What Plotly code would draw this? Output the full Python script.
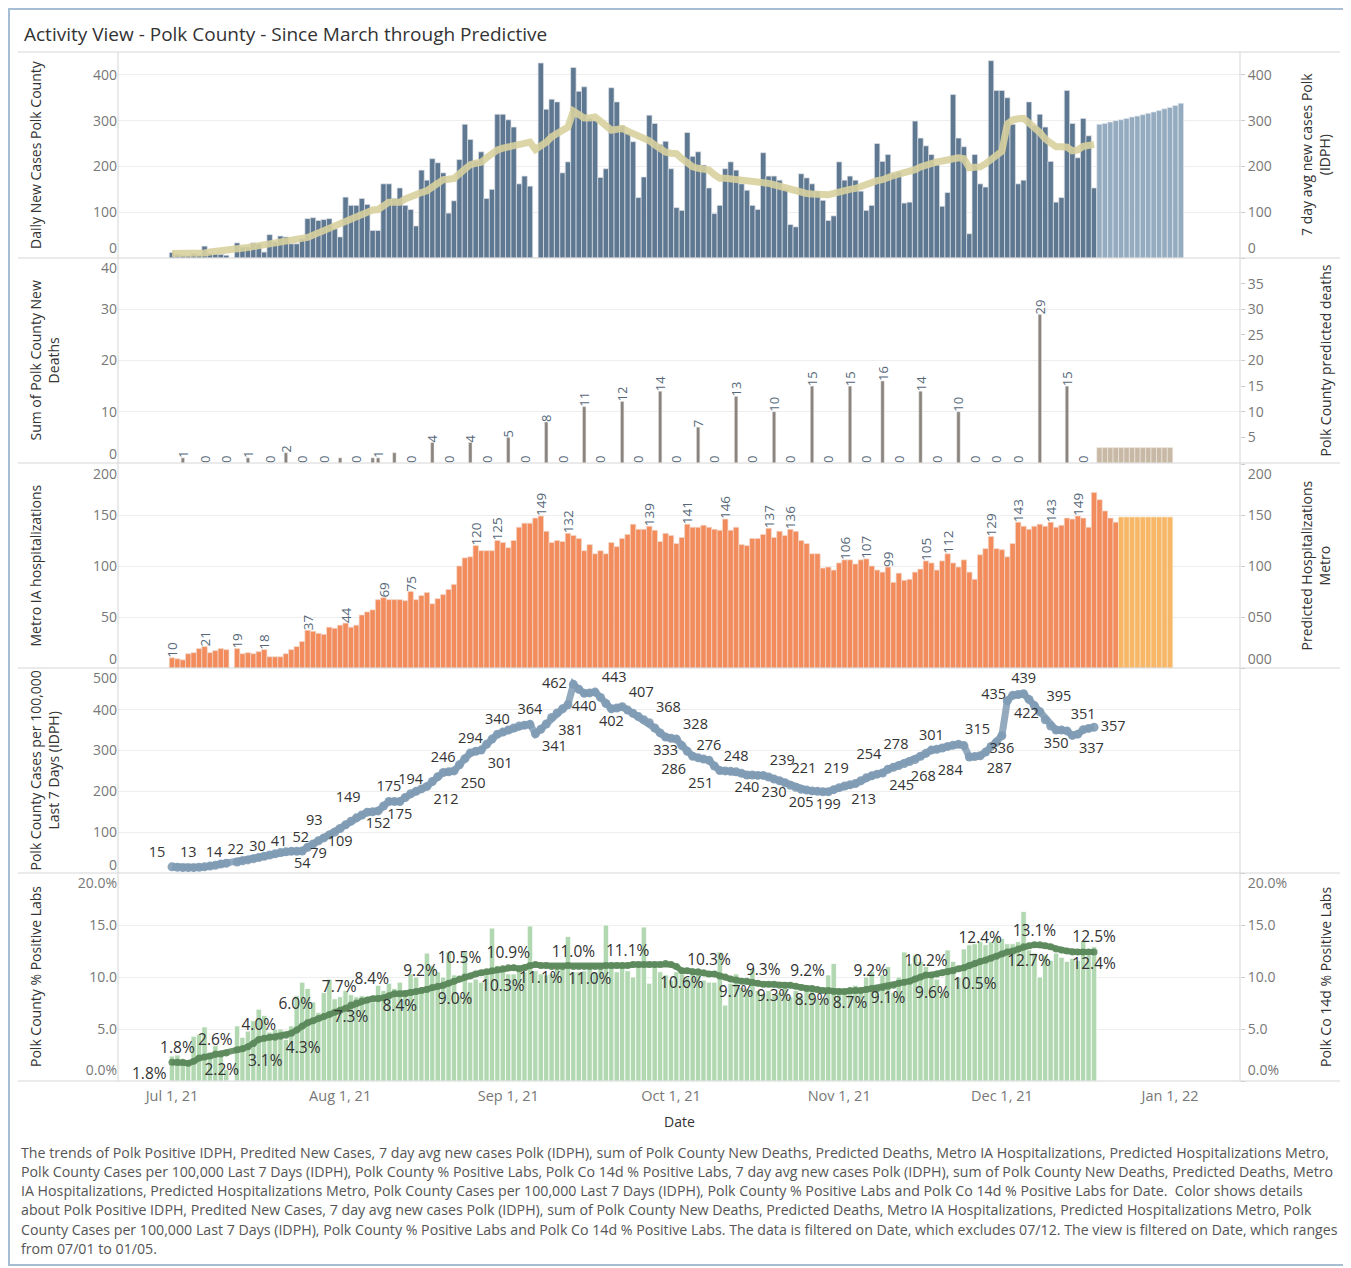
import pandas as pd
import plotly.graph_objects as go

# ---------------- DATA ----------------
START_DATE = "2021-07-01"

X_TICKS = ["2021-07-01", "2021-08-01", "2021-09-01", "2021-10-01",
           "2021-11-01", "2021-12-01", "2022-01-01"]

# Daily new cases Polk County (07/12 excluded -> None)
DAILY_NEW_CASES = [
    12, 8, 6, 5, 10, 7, 26, 10, 9, 8, 6,
    None,
    33, 24, 24, 33, 31, 13, 51, 35, 48,
    46, 31, 31, 42, 86, 88, 82, 84, 86, 64,
    46, 133, 115, 115, 130, 117, 60, 60, 162, 162,
    130, 153, 115, 106, 70, 192, 170, 217, 208, 186,
    98, 125, 215, 292, 259, 212, 232, 130, 150, 314,
    314, 302, 286, 162, 179, 157, 0, 426, 325, 347,
    341, 186, 210, 416, 364, 374, 305, 300, 176, 195,
    372, 341, 289, 272, 254, 132, 177, 312, 294, 248,
    255, 195, 110, 104, 274, 222, 232, 203, 153, 97,
    115, 195, 210, 192, 162, 148, 115, 106, 230, 179,
    179, 170, 150, 73, 68, 184, 175, 162, 146, 126,
    82, 92, 210, 170, 179, 170, 146, 104, 115, 250,
    211, 226, 184, 188, 120, 122, 299, 262, 245, 226,
    203, 113, 143, 357, 262, 243, 53, 226, 162, 155,
    431, 366, 366, 350, 292, 162, 170, 341, 289, 314,
    286, 211, 122, 132, 366, 294, 219, 305, 267, 153,
]

PREDICTED_CASES_START = "2021-12-19"
PREDICTED_NEW_CASES = [292, 294, 297, 300, 302, 305, 308, 310,
                       313, 316, 319, 322, 326, 329, 333, 338]

AVG7_NEW_CASES = [
    10, 10, 10, 9, 9, 10, 11, 13, 14, 15, 17,
    None,
    20, 21, 23, 25, 27, 29, 30, 32, 34,
    36, 37, 38, 40, 45, 50, 55, 60, 65, 70,
    76, 82, 88, 94, 99, 104, 105, 106, 114, 122,
    122, 122, 129, 135, 139, 143, 147, 156, 164, 171,
    172, 174, 184, 194, 204, 207, 209, 219, 228, 236,
    240, 243, 247, 250, 250, 253, 237, 244, 253, 265,
    272, 279, 286, 321, 313, 306, 306, 308, 299, 288,
    279, 281, 283, 277, 272, 266, 261, 256, 247, 238,
    231, 229, 228, 217, 207, 199, 196, 194, 192, 182,
    174, 174, 173, 172, 169, 167, 167, 166, 166, 163,
    160, 157, 153, 149, 146, 142, 141, 140, 139, 138,
    138, 141, 145, 148, 150, 152, 157, 162, 166, 169,
    171, 177, 180, 183, 186, 190, 193, 199, 204, 209,
    210, 212, 215, 217, 219, 217, 197, 198, 199, 206,
    215, 222, 233, 293, 302, 304, 305, 295, 285, 274,
    260, 250, 243, 243, 242, 234, 236, 244, 246, 248,
]

DEATH_DATES = [
    "2021-07-03", "2021-07-07", "2021-07-11", "2021-07-15", "2021-07-19",
    "2021-07-22", "2021-07-25", "2021-07-29", "2021-08-01", "2021-08-04",
    "2021-08-07", "2021-08-08", "2021-08-11", "2021-08-14", "2021-08-18",
    "2021-08-21", "2021-08-25", "2021-08-28", "2021-09-01", "2021-09-04",
    "2021-09-08", "2021-09-11", "2021-09-15", "2021-09-18", "2021-09-22",
    "2021-09-25", "2021-09-29", "2021-10-02", "2021-10-06", "2021-10-09",
    "2021-10-13", "2021-10-16", "2021-10-20", "2021-10-23", "2021-10-27",
    "2021-10-30", "2021-11-03", "2021-11-06", "2021-11-09", "2021-11-12",
    "2021-11-16", "2021-11-19", "2021-11-23", "2021-11-26", "2021-11-30",
    "2021-12-04", "2021-12-08", "2021-12-13", "2021-12-16",
]
NEW_DEATHS = [
    1, 0, 0, 1, 0,
    2, 0, 0, 1, 0,
    1, 1, 2, 0, 4,
    0, 4, 0, 5, 0,
    8, 0, 11, 0, 12,
    0, 14, 0, 7, 0,
    13, 0, 10, 0, 15,
    0, 15, 0, 16, 0,
    14, 0, 10, 0, 0,
    0, 29, 15, 0,
]
UNLABELED_DEATH_DATES = ["2021-08-01", "2021-08-07", "2021-08-11"]

PREDICTED_DEATHS_START = "2021-12-19"
PREDICTED_DEATHS = [3, 3, 3, 3, 3, 3, 3, 3, 3, 3, 3, 3, 3, 3]

METRO_HOSP = [
    10, 9, 8, 14, 15, 19, 21, 15, 17, 19, 18,
    None,
    19, 14, 15, 14, 16, 18, 11, 11, 11,
    14, 18, 21, 26, 37, 36, 34, 33, 40, 39,
    42, 44, 40, 42, 52, 55, 57, 67, 69, 67,
    67, 67, 66, 75, 67, 71, 74, 63, 68, 72,
    77, 82, 100, 108, 109, 120, 115, 115, 115, 125,
    123, 118, 125, 138, 142, 142, 147, 149, 134, 123,
    125, 124, 132, 130, 127, 115, 121, 112, 115, 112,
    123, 119, 127, 131, 141, 136, 136, 139, 135, 124,
    132, 130, 122, 128, 141, 138, 138, 140, 138, 136,
    135, 146, 135, 138, 121, 120, 127, 127, 131, 137,
    128, 134, 130, 136, 134, 125, 122, 112, 112, 98,
    99, 96, 103, 106, 106, 102, 106, 107, 100, 96,
    94, 99, 84, 93, 86, 87, 94, 97, 105, 103,
    96, 105, 112, 103, 99, 106, 94, 87, 111, 117,
    129, 117, 116, 109, 122, 143, 139, 136, 139, 141,
    139, 143, 138, 140, 147, 146, 149, 147, 138, 172,
    165, 154, 147, 143,
]
HOSP_LABEL_DATES = [
    "2021-07-01", "2021-07-07", "2021-07-13", "2021-07-18", "2021-07-26",
    "2021-08-02", "2021-08-09", "2021-08-14", "2021-08-26", "2021-08-30",
    "2021-09-07", "2021-09-12", "2021-09-27", "2021-10-04", "2021-10-11",
    "2021-10-19", "2021-10-23", "2021-11-02", "2021-11-06", "2021-11-10",
    "2021-11-17", "2021-11-21", "2021-11-29", "2021-12-04", "2021-12-10",
    "2021-12-15",
]
PREDICTED_HOSP_START = "2021-12-23"
PREDICTED_HOSP = [148, 148, 148, 148, 148, 148, 148, 148, 148, 148]

CASES_PER_100K = [
    15, 14, 13, 13, 13, 14, 15, 17, 19, 22, 24,
    None,
    27, 30, 32, 35, 38, 41, 44, 47, 50,
    52, 53, 53, 54, 63, 71, 79, 86, 93, 100,
    109, 118, 127, 135, 142, 149, 150, 152, 164, 175,
    175, 175, 185, 194, 200, 206, 212, 224, 236, 246,
    248, 250, 265, 280, 294, 298, 301, 315, 328, 340,
    345, 350, 355, 360, 362, 364, 341, 352, 365, 381,
    392, 402, 412, 462, 450, 440, 441, 443, 430, 415,
    402, 404, 407, 399, 391, 383, 375, 368, 355, 343,
    333, 330, 328, 312, 298, 286, 282, 279, 276, 262,
    251, 250, 249, 248, 244, 240, 240, 239, 239, 235,
    230, 226, 221, 215, 210, 205, 203, 201, 200, 199,
    199, 204, 209, 213, 216, 219, 226, 233, 238, 242,
    245, 254, 259, 263, 268, 273, 278, 286, 293, 301,
    303, 306, 310, 313, 315, 312, 284, 285, 287, 296,
    310, 320, 336, 422, 435, 437, 439, 425, 410, 395,
    375, 360, 350, 350, 348, 337, 340, 351, 354, 357,
]
CASES_100K_LABEL_DATES = [
    "2021-07-01", "2021-07-04", "2021-07-06", "2021-07-10", "2021-07-14",
    "2021-07-18", "2021-07-22", "2021-07-25", "2021-07-28", "2021-07-30",
    "2021-08-01", "2021-08-06", "2021-08-08", "2021-08-10", "2021-08-12",
    "2021-08-14", "2021-08-17", "2021-08-20", "2021-08-22", "2021-08-25",
    "2021-08-27", "2021-08-30", "2021-09-05", "2021-09-06", "2021-09-09",
    "2021-09-13", "2021-09-15", "2021-09-17", "2021-09-20", "2021-09-22",
    "2021-09-27", "2021-09-30", "2021-10-02", "2021-10-05", "2021-10-08",
    "2021-10-10", "2021-10-13", "2021-10-15", "2021-10-18", "2021-10-20",
    "2021-10-22", "2021-10-25", "2021-10-30", "2021-11-02", "2021-11-04",
    "2021-11-09", "2021-11-10", "2021-11-13", "2021-11-15", "2021-11-18",
    "2021-11-23", "2021-11-25", "2021-11-27", "2021-12-01", "2021-12-02",
    "2021-12-03", "2021-12-05", "2021-12-08", "2021-12-11", "2021-12-14",
    "2021-12-16", "2021-12-18",
]

PCT_POSITIVE = [
    2.4, 2.5, 1.5, 1.8, 4.3, 4.5, 5.2, 2.4, 3.4, 2.6, 1.1,
    None,
    5.3, 4.2, 4.8, 5.8, 6.9, 6.3, 4.7, 5.0, 5.0,
    4.0, 5.3, 8.2, 9.5, 8.9, 7.6, 6.6, 8.5, 9.8, 7.9,
    8.1, 8.7, 8.3, 8.1, 8.2, 7.9, 7.6, 9.2, 8.7, 9.4,
    8.9, 9.5, 8.7, 10.3, 10.0, 8.9, 12.3, 11.1, 10.5, 10.0,
    12.4, 10.2, 8.2, 12.4, 9.5, 9.8, 9.5, 10.2, 14.7, 11.1,
    10.8, 10.3, 10.3, 10.8, 10.5, 14.9, 10.6, 10.3, 10.2, 10.3,
    10.8, 11.3, 13.9, 10.5, 10.5, 10.6, 11.0, 10.5, 10.8, 15.0,
    11.3, 10.5, 11.0, 10.6, 10.0, 11.3, 14.8, 9.4, 11.3, 10.5,
    10.2, 9.7, 10.5, 10.3, 10.0, 10.3, 10.3, 9.7, 9.5, 9.5,
    12.4, 7.3, 9.4, 10.3, 9.0, 8.9, 10.8, 8.7, 8.4, 8.7,
    8.2, 8.5, 9.0, 8.1, 8.7, 8.2, 9.2, 9.2, 7.9, 8.0,
    10.2, 11.3, 8.9, 8.7, 8.5, 9.2, 8.7, 10.0, 10.5, 8.9,
    10.2, 11.0, 8.5, 10.0, 12.4, 11.3, 12.1, 11.5, 11.0, 10.5,
    9.8, 8.5, 12.6, 11.5, 10.0, 12.7, 13.1, 13.2, 13.4, 13.1,
    13.4, 13.9, 13.7, 13.2, 13.2, 13.4, 16.3, 12.6, 12.3, 10.0,
    12.1, 11.6, 12.3, 11.9, 11.5, 11.8, 11.6, 13.5, 12.1, 12.9,
]

PCT_14D = [
    1.8, 1.8, 1.8, 1.7, 1.9, 2.2, 2.3, 2.4, 2.6, 2.6, 2.7,
    None,
    3.0, 3.1, 3.3, 3.6, 4.0, 4.1, 4.2, 4.2, 4.3,
    4.4, 4.6, 4.9, 5.3, 5.6, 5.8, 6.0, 6.2, 6.4, 6.6,
    6.8, 7.0, 7.3, 7.5, 7.7, 7.8, 7.9, 7.9, 8.0, 8.2,
    8.4, 8.4, 8.4, 8.5, 8.6, 8.7, 8.8, 9.0, 9.1, 9.2,
    9.4, 9.6, 9.8, 10.0, 10.1, 10.3, 10.4, 10.5, 10.6, 10.7,
    10.8, 10.9, 10.9, 10.8, 10.9, 11.1, 11.2, 11.1, 11.1, 11.0,
    11.0, 11.0, 11.1, 11.0, 11.0, 11.0, 11.0, 11.0, 11.0, 11.1,
    11.1, 11.1, 11.1, 11.1, 11.2, 11.2, 11.2, 11.2, 11.2, 11.2,
    11.3, 11.2, 11.0, 10.6, 10.6, 10.5, 10.5, 10.4, 10.3, 10.3,
    10.1, 10.0, 9.8, 9.7, 9.6, 9.6, 9.5, 9.4, 9.3, 9.3,
    9.3, 9.2, 9.2, 9.2, 9.1, 9.0, 8.9, 8.9, 8.8, 8.7,
    8.7, 8.6, 8.6, 8.6, 8.7, 8.7, 8.7, 8.8, 8.9, 8.9,
    9.0, 9.1, 9.2, 9.4, 9.5, 9.6, 9.8, 10.0, 10.2, 10.2,
    10.3, 10.4, 10.5, 10.6, 10.8, 10.9, 11.1, 11.3, 11.5, 11.6,
    11.8, 12.0, 12.2, 12.4, 12.5, 12.7, 12.9, 13.0, 13.1, 13.1,
    13.0, 12.9, 12.7, 12.6, 12.5, 12.4, 12.4, 12.4, 12.4, 12.4,
]
PCT_14D_LABEL_DATES = [
    "2021-07-01", "2021-07-02", "2021-07-06", "2021-07-09", "2021-07-14",
    "2021-07-17", "2021-07-21", "2021-07-28", "2021-08-03", "2021-08-05",
    "2021-08-11", "2021-08-12", "2021-08-18", "2021-08-20", "2021-08-26",
    "2021-08-28", "2021-09-01", "2021-09-07", "2021-09-13", "2021-09-16",
    "2021-09-23", "2021-10-03", "2021-10-08", "2021-10-13", "2021-10-18",
    "2021-10-20", "2021-10-22", "2021-10-27", "2021-11-03", "2021-11-10",
    "2021-11-11", "2021-11-14", "2021-11-17", "2021-11-21", "2021-12-02",
    "2021-12-07", "2021-12-11", "2021-12-13", "2021-12-18",
]

CAPTION_LINES = [
    "The trends of Polk Positive IDPH, Predited New Cases, 7 day avg new cases Polk (IDPH), sum of Polk County New Deaths, Predicted Deaths, Metro IA Hospitalizations, Predicted Hospitalizations Metro,",
    "Polk County Cases per 100,000 Last 7 Days (IDPH), Polk County % Positive Labs, Polk Co 14d % Positive Labs, 7 day avg new cases Polk (IDPH), sum of Polk County New Deaths, Predicted Deaths, Metro",
    "IA Hospitalizations, Predicted Hospitalizations Metro, Polk County Cases per 100,000 Last 7 Days (IDPH), Polk County % Positive Labs and Polk Co 14d % Positive Labs for Date.  Color shows details",
    "about Polk Positive IDPH, Predited New Cases, 7 day avg new cases Polk (IDPH), sum of Polk County New Deaths, Predicted Deaths, Metro IA Hospitalizations, Predicted Hospitalizations Metro, Polk",
    "County Cases per 100,000 Last 7 Days (IDPH), Polk County % Positive Labs and Polk Co 14d % Positive Labs. The data is filtered on Date, which excludes 07/12. The view is filtered on Date, which ranges",
    "from 07/01 to 01/05.",
]

# ---------------- STYLE / LAYOUT ----------------
CASES_100K_LABEL_POS = [
    "top left", "top center", "top right", "top right", "top right",
    "top right", "top right", "bottom center", "bottom center", "top left",
    "bottom center", "top left", "bottom center", "top center", "bottom center",
    "top center", "bottom right", "top center", "bottom right", "top center",
    "bottom right", "top center", "top center", "bottom right", "bottom right",
    "middle left", "bottom center", "top right", "bottom center", "top right",
    "top right", "bottom center", "top right", "bottom left", "top center",
    "bottom left", "top center", "bottom center", "top right", "bottom center",
    "top right", "bottom center", "bottom center", "bottom right", "top left",
    "bottom right", "top left", "bottom right", "top left", "top center",
    "top right", "bottom left", "bottom right", "bottom center", "bottom right",
    "middle left", "top center", "top right", "bottom center", "bottom right",
    "top center", "middle right",
]
PCT_14D_LABEL_POS = [
    "bottom left", "top center", "bottom right", "top center", "bottom right",
    "top center", "bottom right", "top left", "bottom center", "top left",
    "top left", "bottom center", "bottom right", "top left", "bottom right",
    "top left", "top center", "bottom center", "top center", "bottom center",
    "top center", "bottom center", "top center", "bottom center", "top center",
    "bottom center", "top right", "bottom center", "bottom center", "bottom center",
    "top left", "bottom right", "top center", "bottom right", "top left",
    "top center", "bottom left", "top right", "bottom center",
]

OFF = 8                       # browser body margin
W, H = 1351 - OFF, 1268 - OFF
L, R, T, B = 118, 1240, 52, 1081      # plot area in page pixels
PW, PH = R - L, B - T
FONT = "Open Sans"


def px_x(px):
    return (px - L) / PW


def px_y(py):
    return (B - py) / PH


DAY_MS = 86400000


def dates(start, n):
    return pd.date_range(start, periods=n, freq="D")


panel_edges = [52, 258, 463, 668, 873, 1081]
domains = [[px_y(panel_edges[i + 1]), px_y(panel_edges[i])] for i in range(5)]

fig = go.Figure()

# Panel 1
d_cases = dates(START_DATE, len(DAILY_NEW_CASES))
fig.add_trace(go.Bar(x=d_cases, y=DAILY_NEW_CASES, width=DAY_MS,
                     marker=dict(color="#5e7891", line=dict(color="#dfe3e8", width=0.7)),
                     xaxis="x", yaxis="y", showlegend=False))
fig.add_trace(go.Bar(x=dates(PREDICTED_CASES_START, len(PREDICTED_NEW_CASES)), y=PREDICTED_NEW_CASES,
                     width=DAY_MS, marker=dict(color="#94abc0", line=dict(color="#e3e8ee", width=0.7)),
                     xaxis="x", yaxis="y", showlegend=False))
fig.add_trace(go.Scatter(x=d_cases, y=AVG7_NEW_CASES, mode="lines", connectgaps=True,
                         line=dict(color="rgba(216,208,158,0.9)", width=7),
                         xaxis="x", yaxis="y6", showlegend=False))

# Panel 2
unl = set(pd.to_datetime(UNLABELED_DEATH_DATES))
d_deaths = pd.to_datetime(DEATH_DATES)
death_text = ["" if d in unl else str(v) for d, v in zip(d_deaths, NEW_DEATHS)]
fig.add_trace(go.Bar(x=d_deaths, y=NEW_DEATHS, width=DAY_MS * 0.62,
                     marker=dict(color="#8b847e", line=dict(color="#e6e6e6", width=0.5)),
                     text=death_text, textposition="outside", textangle=-90,
                     constraintext="none", cliponaxis=False,
                     textfont=dict(family=FONT, size=13, color="#566779"),
                     xaxis="x2", yaxis="y2", showlegend=False))
fig.add_trace(go.Bar(x=dates(PREDICTED_DEATHS_START, len(PREDICTED_DEATHS)), y=PREDICTED_DEATHS,
                     width=DAY_MS, marker=dict(color="#c8b8a6", line=dict(color="#eee6dc", width=0.7)),
                     xaxis="x2", yaxis="y7", showlegend=False))

# Panel 3
d_hosp = dates(START_DATE, len(METRO_HOSP))
hl = set(pd.to_datetime(HOSP_LABEL_DATES))
hosp_text = [str(v) if (d in hl and v is not None) else "" for d, v in zip(d_hosp, METRO_HOSP)]
fig.add_trace(go.Bar(x=d_hosp, y=METRO_HOSP, width=DAY_MS,
                     marker=dict(color="#f28c5c", line=dict(color="#f3d9cc", width=0.7)),
                     text=hosp_text, textposition="outside", textangle=-90,
                     constraintext="none", cliponaxis=False,
                     textfont=dict(family=FONT, size=13.5, color="#566779"),
                     xaxis="x3", yaxis="y3", showlegend=False))
fig.add_trace(go.Bar(x=dates(PREDICTED_HOSP_START, len(PREDICTED_HOSP)), y=PREDICTED_HOSP,
                     width=DAY_MS, marker=dict(color="#f7b767", line=dict(color="#f8e2c4", width=0.7)),
                     xaxis="x3", yaxis="y8", showlegend=False))

# Panel 4
d_100k = dates(START_DATE, len(CASES_PER_100K))
pos100 = dict(zip(pd.to_datetime(CASES_100K_LABEL_DATES), CASES_100K_LABEL_POS))
t100 = [str(v) if d in pos100 else "" for d, v in zip(d_100k, CASES_PER_100K)]
p100 = [pos100.get(d, "top center") for d in d_100k]
fig.add_trace(go.Scatter(x=d_100k, y=CASES_PER_100K, mode="lines+markers+text", connectgaps=True,
                         line=dict(color="rgba(128,155,180,0.85)", width=7),
                         marker=dict(color="rgba(128,155,180,0.9)", size=9),
                         text=t100, textposition=p100, cliponaxis=False,
                         textfont=dict(family=FONT, size=14.5, color="#333333"),
                         xaxis="x4", yaxis="y4", showlegend=False))

# Panel 5
d_pct = dates(START_DATE, len(PCT_POSITIVE))
fig.add_trace(go.Bar(x=d_pct, y=PCT_POSITIVE, width=DAY_MS,
                     marker=dict(color="#b2d8b2", line=dict(color="#ffffff", width=0.8)),
                     xaxis="x5", yaxis="y5", showlegend=False))
d_14 = dates(START_DATE, len(PCT_14D))
pos14 = dict(zip(pd.to_datetime(PCT_14D_LABEL_DATES), PCT_14D_LABEL_POS))
t14 = [f"{v:.1f}%" if d in pos14 else "" for d, v in zip(d_14, PCT_14D)]
p14 = [pos14.get(d, "top center") for d in d_14]
fig.add_trace(go.Scatter(x=d_14, y=PCT_14D, mode="lines+markers+text", connectgaps=True,
                         line=dict(color="rgba(92,138,92,0.9)", width=6),
                         marker=dict(color="rgba(92,138,92,0.9)", size=7),
                         text=t14, textposition=p14, cliponaxis=False,
                         textfont=dict(family=FONT, size=15.5, color="#333333"),
                         xaxis="x5", yaxis="y10", showlegend=False))

# ---------------- AXES ----------------
x_range = [pd.Timestamp(START_DATE) - pd.Timedelta(days=(172 - L) / 5.424),
           pd.Timestamp(START_DATE) + pd.Timedelta(days=(R - 172) / 5.424)]
tickfont = dict(family=FONT, size=14, color="#777777")

layout = dict(
    width=W, height=H,
    margin=dict(l=L - OFF, r=W - (R - OFF), t=T - OFF, b=H - (B - OFF), pad=0),
    paper_bgcolor="white", plot_bgcolor="white",
    barmode="overlay",
    font=dict(family=FONT, color="#333333"),
)

for i in range(5):
    xn = "xaxis" if i == 0 else f"xaxis{i + 1}"
    yn = "yaxis" if i == 0 else f"yaxis{i + 1}"
    layout[xn] = dict(domain=[0, 1], anchor="y" if i == 0 else f"y{i + 1}",
                      range=x_range, type="date", showgrid=False, zeroline=False,
                      showline=False, ticks="", showticklabels=(i == 4),
                      tickvals=X_TICKS, tickformat="%b %-d, %y",
                      tickfont=dict(family=FONT, size=14.5, color="#777777"),
                      ticklabelstandoff=4,
                      **({} if i == 0 else {"matches": "x"}))
    layout[yn] = dict(domain=domains[i], anchor="x" if i == 0 else f"x{i + 1}",
                      showgrid=True, gridcolor="#eeeeee", gridwidth=1, zeroline=False,
                      showline=False, ticks="", tickfont=tickfont)

RANGES = [[0, 450], [0, 40], [0, 201], [0, 502], [0, 20]]
layout["yaxis"].update(range=RANGES[0], tickvals=[100, 200, 300, 400])
layout["yaxis2"].update(range=RANGES[1], tickvals=[10, 20, 30])
layout["yaxis3"].update(range=RANGES[2], tickvals=[50, 100, 150])
layout["yaxis4"].update(range=RANGES[3], tickvals=[100, 200, 300, 400])
layout["yaxis5"].update(range=RANGES[4], tickvals=[5, 10, 15], tickformat=".1f", ticksuffix="%")

right_common = dict(side="right", showgrid=False, zeroline=False, showline=False,
                    ticks="outside", ticklen=4, tickcolor="#cccccc", tickfont=tickfont)
layout["yaxis6"] = dict(overlaying="y", anchor="x", range=RANGES[0],
                        tickvals=[100, 200, 300, 400], **right_common)
layout["yaxis7"] = dict(overlaying="y2", anchor="x2", range=RANGES[1],
                        tickvals=[5, 10, 15, 20, 25, 30, 35], **right_common)
layout["yaxis8"] = dict(overlaying="y3", anchor="x3", range=RANGES[2],
                        tickvals=[50, 100, 150], ticktext=["050", "100", "150"], **right_common)
layout["yaxis10"] = dict(overlaying="y5", anchor="x5", range=RANGES[4],
                         tickvals=[5, 10, 15], tickformat=".1f", ticksuffix="%",
                         **right_common)

# Edge tick labels, nudged into the panel as in the original (pixel shift: + = down)
edge_specs = [
    # (panel index, side, value, text, shift)
    (0, "left", 0, "0", -10), (0, "right", 0, "0", -10),
    (1, "left", 0, "0", -9), (1, "left", 40, "40", 10),
    (2, "left", 0, "0", -9), (2, "left", 200, "200", 10),
    (2, "right", 0, "000", -9), (2, "right", 200, "200", 10),
    (3, "left", 0, "0", -8), (3, "left", 500, "500", 9),
    (4, "left", 0, "0.0%", -11), (4, "left", 20, "20.0%", 10),
    (4, "right", 0, "0.0%", -11), (4, "right", 20, "20.0%", 10),
]
ax_n = 11
for p, side, val, txt, shift in edge_specs:
    base = "y" if p == 0 else f"y{p + 1}"
    xa = "x" if p == 0 else f"x{p + 1}"
    layout[f"yaxis{ax_n}"] = dict(overlaying=base, anchor=xa,
                                  side=side, range=RANGES[p], tickvals=[val], ticktext=[txt],
                                  showgrid=False, zeroline=False, showline=False,
                                  ticks="outside" if side == "right" else "",
                                  ticklen=4, tickcolor="#cccccc",
                                  tickfont=tickfont, ticklabelshift=shift)
    fig.add_trace(go.Scatter(x=[None], y=[None], mode="markers", xaxis=xa,
                             yaxis=f"y{ax_n}", showlegend=False, hoverinfo="skip"))
    ax_n += 1

fig.update_layout(**layout)

# ---------------- FRAME LINES ----------------
shapes = [dict(type="rect", xref="paper", yref="paper",
               x0=px_x(OFF + 1), x1=px_x(1348), y0=px_y(1265), y1=px_y(OFF + 1),
               line=dict(color="#a7bdd3", width=2), layer="below")]
for py in panel_edges:
    shapes.append(dict(type="line", xref="paper", yref="paper",
                       x0=px_x(18), x1=px_x(1340), y0=px_y(py), y1=px_y(py),
                       line=dict(color="#d6d6d6", width=1)))
for pxv in (L, R):
    shapes.append(dict(type="line", xref="paper", yref="paper",
                       x0=px_x(pxv), x1=px_x(pxv), y0=px_y(B), y1=px_y(T),
                       line=dict(color="#d6d6d6", width=1)))
fig.update_layout(shapes=shapes)

# ---------------- TEXT ----------------
ann = [dict(text="Activity View - Polk County - Since March through Predictive",
            x=px_x(22), y=px_y(34), xref="paper", yref="paper", xanchor="left",
            yanchor="middle", showarrow=False, font=dict(family=FONT, size=19, color="#333333"))]

left_titles = [
    ("Daily New Cases Polk County", 35),
    ("Sum of Polk County New<br>Deaths", 44),
    ("Metro IA hospitalizations", 35),
    ("Polk County Cases per 100,000<br>Last 7 Days (IDPH)", 44),
    ("Polk County % Positive Labs", 35),
]
right_titles = [
    ("7 day avg new cases Polk<br>(IDPH)", 1315),
    ("Polk County predicted deaths", 1325),
    ("Predicted Hospitalizations<br>Metro", 1315),
    None,
    ("Polk Co 14d % Positive Labs", 1325),
]
for i in range(5):
    yc = (domains[i][0] + domains[i][1]) / 2
    txt, xp = left_titles[i]
    ann.append(dict(text=txt, x=px_x(xp), y=yc, xref="paper", yref="paper",
                    xanchor="center", yanchor="middle", textangle=-90, showarrow=False,
                    font=dict(family=FONT, size=14, color="#333333")))
    if right_titles[i]:
        txt, xp = right_titles[i]
        ann.append(dict(text=txt, x=px_x(xp), y=yc, xref="paper", yref="paper",
                        xanchor="center", yanchor="middle", textangle=-90, showarrow=False,
                        font=dict(family=FONT, size=14, color="#333333")))

ann.append(dict(text="Date", x=0.5, y=px_y(1121), xref="paper", yref="paper",
                xanchor="center", yanchor="middle", showarrow=False,
                font=dict(family=FONT, size=14, color="#333333")))

for k, line in enumerate(CAPTION_LINES):
    ann.append(dict(text=line, x=px_x(19), y=px_y(1152 + 19.3 * k), xref="paper", yref="paper",
                    xanchor="left", yanchor="middle", showarrow=False, align="left",
                    font=dict(family=FONT, size=14.2, color="#555555")))

fig.update_layout(annotations=ann)

fig.write_html("out.html")
